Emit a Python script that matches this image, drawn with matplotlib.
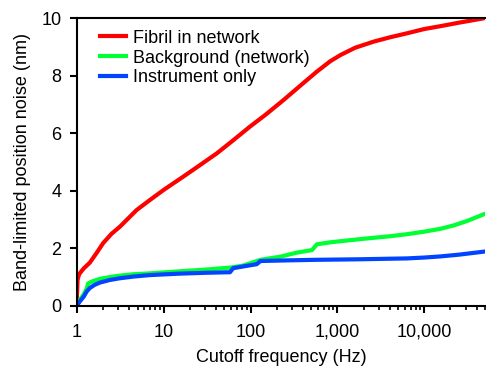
import numpy as np
import matplotlib
matplotlib.use("Agg")
import matplotlib.pyplot as plt
from matplotlib.ticker import FixedLocator, LogLocator, NullFormatter

plt.rcParams['font.family'] = ['Liberation Sans', 'DejaVu Sans']

# --- data ---
red_f = [1.0, 1.02, 1.05, 1.08, 1.2, 1.41, 1.7, 2.01, 2.5, 3.13, 4.88, 6.95,
         10, 16.8, 25, 40.9, 60, 98.6, 150, 239, 401, 580, 826, 1090, 1600,
         2600, 4000, 6300, 10000, 15400, 25000, 50000]
red_y = [0.2, 0.9, 1.05, 1.13, 1.3, 1.5, 1.85, 2.18, 2.5, 2.75, 3.33, 3.68,
         4.03, 4.49, 4.85, 5.30, 5.7, 6.23, 6.65, 7.15, 7.73, 8.14, 8.5, 8.72,
         8.97, 9.18, 9.33, 9.47, 9.62, 9.72, 9.84, 10.0]

green_f = [1.0, 1.08, 1.2, 1.3, 1.35, 1.5, 1.84, 2.5, 3.1, 4.5, 6.9, 15, 30,
           58, 82, 130, 220, 340, 510, 580, 830, 1820, 4000, 6300, 10000,
           15400, 22000, 31000, 50000]
green_y = [0.05, 0.2, 0.4, 0.6, 0.78, 0.85, 0.94, 1.01, 1.05, 1.1, 1.13, 1.2,
           1.26, 1.33, 1.4, 1.6, 1.71, 1.85, 1.94, 2.14, 2.21, 2.32, 2.42,
           2.49, 2.58, 2.68, 2.8, 2.95, 3.2]

blue_f = [1.0, 1.08, 1.2, 1.3, 1.41, 1.6, 1.84, 2.4, 3.13, 4.5, 6.9, 15, 30,
          58, 63, 82, 118, 130, 250, 530, 1820, 6300, 10000, 15400, 25000,
          50000]
blue_y = [0.0, 0.15, 0.32, 0.5, 0.62, 0.73, 0.81, 0.9, 0.96, 1.02, 1.07,
          1.12, 1.15, 1.17, 1.31, 1.37, 1.45, 1.56, 1.58, 1.6, 1.62, 1.65,
          1.68, 1.72, 1.78, 1.89]

labels = ["Fibril in network", "Background (network)", "Instrument only"]
xticks = [1, 10, 100, 1000, 10000]
xtick_labels = ["1", "10", "100", "1,000", "10,000"]
yticks = [0, 2, 4, 6, 8, 10]

fig = plt.figure(figsize=(4.86, 3.69), dpi=100)
ax = fig.add_axes([0.158, 0.171, 0.840, 0.780])

ax.plot(red_f, red_y, color='#ff0000', lw=3, label=labels[0])
ax.plot(green_f, green_y, color='#00ff33', lw=3, label=labels[1])
ax.plot(blue_f, blue_y, color='#0044ff', lw=3, label=labels[2])

ax.set_xscale('log')
ax.set_xlim(1, 50000)
ax.set_ylim(0, 10)
ax.xaxis.set_major_locator(FixedLocator(xticks))
ax.set_xticklabels(xtick_labels)
ax.xaxis.set_minor_locator(LogLocator(base=10, subs=np.arange(2, 10), numticks=20))
ax.xaxis.set_minor_formatter(NullFormatter())
ax.set_yticks(yticks)

for s in ['left', 'bottom', 'top']:
    ax.spines[s].set_linewidth(1.5)
ax.spines['right'].set_visible(False)
ax.tick_params(which='major', direction='out', length=5, width=1.5, labelsize=13)
ax.tick_params(axis='x', which='major', pad=8)
ax.tick_params(axis='y', which='major', pad=6)
ax.tick_params(which='minor', direction='out', length=3, width=1.2)

ax.set_xlabel("Cutoff frequency (Hz)", fontsize=13, labelpad=6)
ax.set_ylabel("Band-limited position noise (nm)", fontsize=13, labelpad=7.5)

ax.legend(loc='upper left', frameon=False, fontsize=13, handlelength=1.4,
          handletextpad=0.4, labelspacing=0.16, borderaxespad=0.0,
          bbox_to_anchor=(0.04, 0.985))

fig.savefig("out.png", dpi=100)
